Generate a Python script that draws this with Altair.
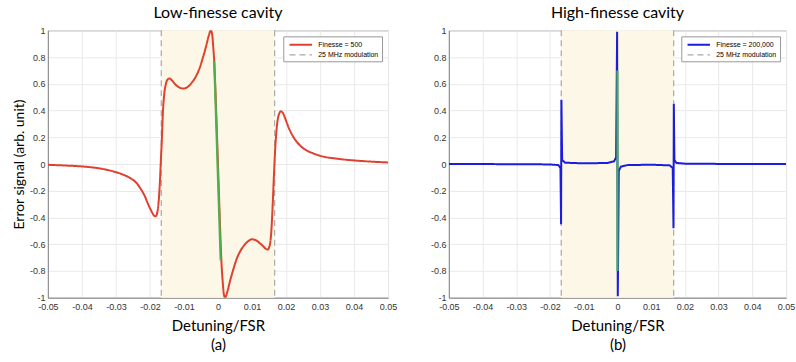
import altair as alt
import pandas as pd

# ---------------- data ----------------
low_x = [-0.05, -0.045, -0.04, -0.035, -0.0304, -0.028, -0.0256, -0.024, -0.0226, -0.0215,
         -0.0207, -0.0198, -0.0192, -0.0187, -0.0183, -0.0179, -0.0175, -0.0171, -0.0168, -0.0165,
         -0.0162, -0.0158, -0.0153, -0.0147, -0.0142, -0.0135, -0.0125, -0.0113, -0.0101, -0.009,
         -0.0078, -0.0066, -0.0055, -0.0045, -0.0035, -0.0027, -0.0021, -0.0017, -0.0014, -0.0011,
         -0.0005, 0.0, 0.0005, 0.0011, 0.0014, 0.0017, 0.0021, 0.0027, 0.0035, 0.0045,
         0.0055, 0.0066, 0.0078, 0.009, 0.0099, 0.011, 0.0122, 0.0133, 0.0141, 0.0146,
         0.0152, 0.0157, 0.0161, 0.0164, 0.0167, 0.017, 0.0174, 0.0179, 0.0185, 0.019,
         0.0195, 0.02, 0.021, 0.022, 0.023, 0.0245, 0.026, 0.028, 0.03, 0.035,
         0.04, 0.045, 0.05]
low_y = [-0.006, -0.011, -0.018, -0.032, -0.058, -0.078, -0.108, -0.14, -0.19, -0.24,
         -0.29, -0.34, -0.37, -0.388, -0.39, -0.37, -0.3, -0.15, 0.02, 0.18,
         0.38, 0.52, 0.6, 0.635, 0.64, 0.625, 0.595, 0.572, 0.565, 0.575,
         0.605, 0.65, 0.71, 0.79, 0.88, 0.96, 1.0, 0.97, 0.88, 0.77,
         0.38, 0.0, -0.38, -0.77, -0.88, -0.97, -1.0, -0.96, -0.88, -0.79,
         -0.71, -0.65, -0.605, -0.575, -0.563, -0.568, -0.59, -0.615, -0.635, -0.64,
         -0.61, -0.5, -0.3, -0.12, 0.05, 0.18, 0.3, 0.37, 0.395, 0.385,
         0.36, 0.325, 0.26, 0.21, 0.172, 0.13, 0.103, 0.08, 0.062, 0.04,
         0.027, 0.018, 0.012]

high_x = [-0.05, -0.03, -0.02, -0.0175, -0.0169, -0.01672, -0.01662, -0.0164, -0.0155, -0.01,
          -0.003, -0.001, -0.0004, -0.0001, 0.0001, 0.0004, 0.001, 0.003, 0.01, 0.0155,
          0.0164, 0.01662, 0.01672, 0.0169, 0.0175, 0.02, 0.03, 0.05]
high_y = [0.0, -0.001, -0.003, -0.008, -0.03, -0.45, 0.48, 0.03, 0.01, 0.005,
          0.008, 0.02, 0.05, 0.99, -0.99, -0.05, -0.02, -0.008, -0.005, -0.01,
          -0.03, -0.48, 0.45, 0.03, 0.008, 0.003, 0.001, 0.0]

mod_x = [-0.01667, 0.01667]          # 25 MHz sidebands (Detuning/FSR)
band_x = [-0.01667]
band_x2 = [0.01667]

green_low_x = [-0.0011, 0.0008]
green_low_y = [0.77, -0.72]
green_high_x = [0.0, 0.0]
green_high_y = [0.7, -0.8]

x_ticks = [-0.05, -0.04, -0.03, -0.02, -0.01, 0, 0.01, 0.02, 0.03, 0.04, 0.05]
y_ticks = [-1, -0.8, -0.6, -0.4, -0.2, 0, 0.2, 0.4, 0.6, 0.8, 1]

MOD = "25 MHz modulation"
TITLE_FONT = "Lato"
LABEL_FONT = "Liberation Sans"


def panel(title, tag, cx, cy, cname, ccolor, interp, gx, gy, width, height, ytitle):
    curve = pd.DataFrame({"x": cx, "y": cy, "series": cname})
    mods = pd.DataFrame({"x": mod_x, "series": MOD})
    band = pd.DataFrame({"x": band_x, "x2": band_x2})
    green = pd.DataFrame({"x": gx, "y": gy})

    xs = alt.Scale(domain=[-0.05, 0.05], nice=False, zero=False)
    ys = alt.Scale(domain=[-1, 1], nice=False, zero=False)
    xaxis = alt.Axis(values=x_ticks, labelExpr="'' + datum.value", title=["Detuning/FSR", tag],
                     titleFont=TITLE_FONT, titleFontSize=15, titleFontWeight="normal",
                     titleLineHeight=19, titlePadding=7, labelFont=LABEL_FONT, labelFontSize=9,
                     labelPadding=5, ticks=False, grid=True, labelFlush=False)
    yaxis_kw = dict(values=y_ticks, labelExpr="'' + datum.value",
                    titleFont=TITLE_FONT, titleFontSize=14, titleFontWeight="normal",
                    titlePadding=3, labelFont=LABEL_FONT, labelFontSize=9, labelPadding=3,
                    ticks=False, grid=True)
    yaxis = alt.Axis(title=ytitle, **yaxis_kw) if ytitle else alt.Axis(title=None, **yaxis_kw)

    dom = [cname, MOD]
    leg = alt.Legend(title=None, orient="top-right", offset=6, fillColor="white",
                     strokeColor="#999999", padding=3, labelFont=LABEL_FONT, labelFontSize=7,
                     symbolType="M-2.5,0H2.5", symbolSize=81, symbolOffset=9, rowPadding=0,
                     labelOffset=12, cornerRadius=0)
    color = alt.Color("series:N", scale=alt.Scale(domain=dom, range=[ccolor, "#a9a9a9"]), legend=leg)
    dash = alt.StrokeDash("series:N", scale=alt.Scale(domain=dom, range=[[1, 0], [6, 4]]), legend=leg)
    sw = alt.StrokeWidth("series:N", scale=alt.Scale(domain=dom, range=[2, 1.2]), legend=leg)

    xenc = alt.X("x:Q", scale=xs, axis=xaxis)
    yenc = alt.Y("y:Q", scale=ys, axis=yaxis)

    shade = alt.Chart(band).mark_rect(color="#fcf7e6").encode(x=xenc, x2="x2:Q")
    rules = alt.Chart(mods).mark_rule().encode(x=xenc, color=color, strokeDash=dash, strokeWidth=sw)
    line = alt.Chart(curve).mark_line(interpolate=interp, clip=True).encode(
        x=xenc, y=yenc, color=color, strokeDash=dash, strokeWidth=sw)
    gline = alt.Chart(green).mark_line(color="#4caf50", strokeWidth=2.2, clip=True).encode(
        x=xenc, y=yenc, order=alt.Order("y:Q", sort="descending"))

    return alt.layer(shade, rules, line, gline).properties(
        width=width, height=height,
        title=alt.TitleParams(title, font=TITLE_FONT, fontSize=16, fontWeight="normal",
                              anchor="middle", offset=5, color="black"),
    )


left = panel("Low-finesse cavity", "(a)", low_x, low_y, "Finesse = 500", "#e0402e", "monotone",
             green_low_x, green_low_y, 341, 268, "Error signal (arb. unit)")
right = panel("High-finesse cavity", "(b)", high_x, high_y, "Finesse = 200,000", "#1c1cdc", "linear",
              green_high_x, green_high_y, 338, 268, None)

chart = alt.hconcat(left, right, spacing=31).resolve_scale(
    color="independent", strokeDash="independent", strokeWidth="independent"
).resolve_legend(color="independent", strokeDash="independent", strokeWidth="independent").properties(
    padding={"left": 11, "top": 4, "right": 0, "bottom": 0}
).configure_view(stroke="#999999", strokeWidth=1).configure_axis(
    domainColor="#888888", gridColor="#e9e9e9", labelColor="#333333", titleColor="black"
)

chart.save("out.html", embed_options={"renderer": "svg", "actions": False})
